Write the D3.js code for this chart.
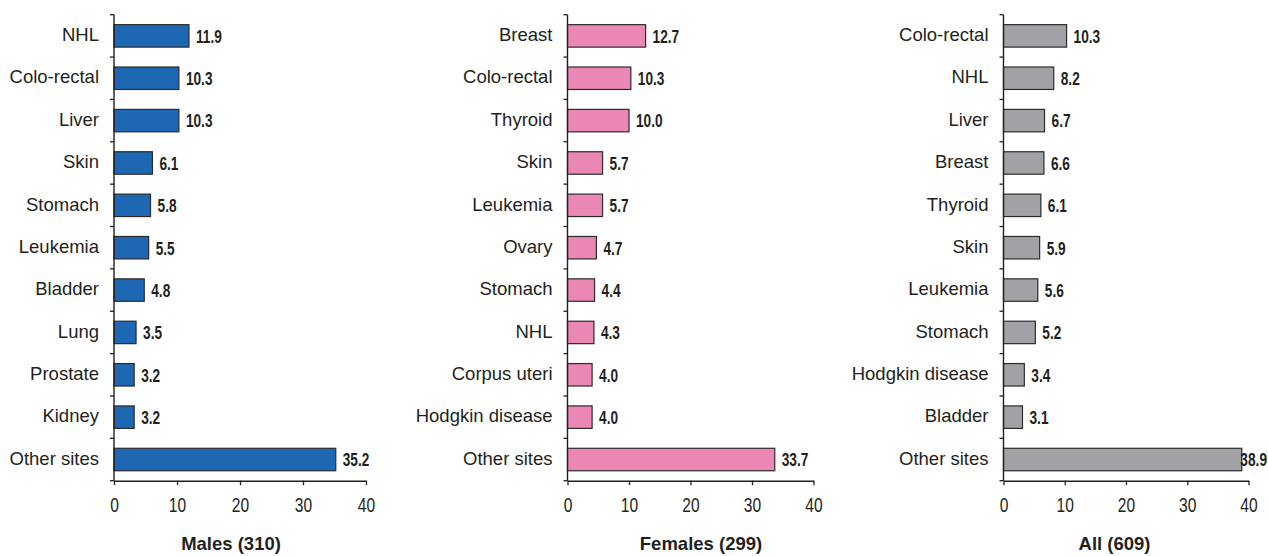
<!DOCTYPE html>
<html>
<head>
<meta charset="utf-8">
<script src="https://cdn.jsdelivr.net/npm/d3@7"></script>
<style>
  html, body { margin: 0; padding: 0; background: #fff; }
  svg { display: block; }
</style>
</head>
<body>
<svg id="chart" width="1268" height="556"></svg>
<script>
// ---- data ----
const maleSites = ["NHL","Colo-rectal","Liver","Skin","Stomach","Leukemia","Bladder","Lung","Prostate","Kidney","Other sites"];
const maleValues = [11.9,10.3,10.3,6.1,5.8,5.5,4.8,3.5,3.2,3.2,35.2];
const femaleSites = ["Breast","Colo-rectal","Thyroid","Skin","Leukemia","Ovary","Stomach","NHL","Corpus uteri","Hodgkin disease","Other sites"];
const femaleValues = [12.7,10.3,10.0,5.7,5.7,4.7,4.4,4.3,4.0,4.0,33.7];
const allSites = ["Colo-rectal","NHL","Liver","Breast","Thyroid","Skin","Leukemia","Stomach","Hodgkin disease","Bladder","Other sites"];
const allValues = [10.3,8.2,6.7,6.6,6.1,5.9,5.6,5.2,3.4,3.1,38.9];
const panelTitles = ["Males (310)","Females (299)","All (609)"];
const xTicks = [0,10,20,30,40];

// ---- layout ----
const W = 1268, H = 556;
const plotTop = 14.7, plotBottom = 480.7;
const panels = [
  {sites: maleSites, values: maleValues, title: panelTitles[0], x0: 114, x1: 366, fill: "#1e68b3", titleX: 231},
  {sites: femaleSites, values: femaleValues, title: panelTitles[1], x0: 567.5, x1: 813.5, fill: "#ea87b5", titleX: 701},
  {sites: allSites, values: allValues, title: panelTitles[2], x0: 1003.5, x1: 1248.5, fill: "#a2a2a6", titleX: 1114.5}
];
const ink = "#231f20";
const svg = d3.select("#chart");

panels.forEach(p => {
  const g = svg.append("g");
  const x = d3.scaleLinear().domain([0, 40]).range([p.x0, p.x1]);
  const y = d3.scaleBand().domain(p.sites).range([plotTop, plotBottom])
              .paddingInner(0.47).paddingOuter(0.235);
  const step = y.step();
  const half = step * y.paddingInner() / 2;

  // bars
  p.sites.forEach((s, i) => {
    g.append("rect")
      .attr("x", x(0))
      .attr("y", y(s))
      .attr("width", x(p.values[i]) - x(0))
      .attr("height", y.bandwidth())
      .attr("fill", p.fill)
      .attr("stroke", "#2b2b2b")
      .attr("stroke-width", 1.2);
  });

  // x axis
  const xa = g.append("g").attr("transform", `translate(0,${plotBottom})`)
    .call(d3.axisBottom(x).tickValues(xTicks).tickSize(4.5).tickSizeOuter(0));
  xa.select(".domain").attr("stroke", ink).attr("stroke-width", 1.4);
  xa.selectAll(".tick line").attr("stroke", ink).attr("stroke-width", 1.3);
  xa.selectAll(".tick text")
    .attr("y", 31).attr("dy", 0)
    .attr("fill", ink)
    .style("font-family", "'Liberation Sans', Arial, sans-serif")
    .style("font-size", "20.5px")
    .attr("transform", "scale(0.76,1)");

  // y axis line with ticks at category boundaries
  g.append("line")
    .attr("x1", x(0)).attr("x2", x(0))
    .attr("y1", plotTop).attr("y2", plotBottom)
    .attr("stroke", ink).attr("stroke-width", 1.4);
  const bounds = p.sites.map(s => y(s) - half).concat([plotBottom]);
  g.selectAll(".ytick").data(bounds).enter().append("line")
    .attr("x1", x(0) - 4).attr("x2", x(0))
    .attr("y1", d => d).attr("y2", d => d)
    .attr("stroke", ink).attr("stroke-width", 1.3);

  // category labels
  p.sites.forEach(s => {
    g.append("text")
      .attr("x", x(0) - 15)
      .attr("y", y(s) + y.bandwidth() / 2)
      .attr("dy", "0.28em")
      .attr("text-anchor", "end")
      .attr("fill", ink)
      .style("font-family", "'Liberation Sans', Arial, sans-serif")
      .style("font-size", "18.5px")
      .text(s);
  });

  // value labels
  const sx = 0.72;
  p.sites.forEach((s, i) => {
    const t = g.append("text")
      .attr("x", 0).attr("y", 0)
      .attr("dy", "0.36em")
      .attr("text-anchor", "start")
      .attr("fill", ink)
      .style("font-family", "'Liberation Sans', Arial, sans-serif")
      .style("font-weight", "bold")
      .style("font-size", "19px")
      .text(p.values[i].toFixed(1));
    const w = t.node().getComputedTextLength() * sx;
    const lx = Math.min(x(p.values[i]) + 7, W - 1 - w);
    t.attr("transform", `translate(${lx},${y(s) + y.bandwidth() / 2}) scale(${sx},1)`);
  });

  // panel title
  g.append("text")
    .attr("x", p.titleX)
    .attr("y", 550)
    .attr("text-anchor", "middle")
    .attr("fill", ink)
    .style("font-family", "'Liberation Sans', Arial, sans-serif")
    .style("font-weight", "bold")
    .style("font-size", "18.5px")
    .text(p.title);
});
</script>
</body>
</html>
